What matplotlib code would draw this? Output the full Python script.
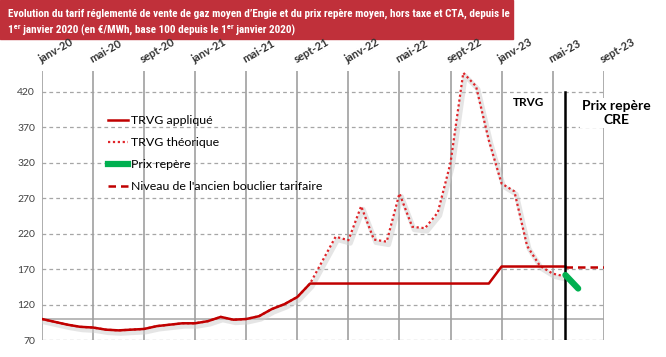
import numpy as np
import matplotlib
matplotlib.use('Agg')
import matplotlib.pyplot as plt
from matplotlib import font_manager
from matplotlib.lines import Line2D
from matplotlib.patches import Rectangle
from matplotlib.transforms import offset_copy

plt.rcParams['font.family'] = ['Lato', 'DejaVu Sans']

# données (mois 0 = janv-20)
mois_labels = ['janv-20', 'mai-20', 'sept-20', 'janv-21', 'mai-21', 'sept-21',
               'janv-22', 'mai-22', 'sept-22', 'janv-23', 'mai-23', 'sept-23']
mois_ticks = [0, 4, 8, 12, 16, 20, 24, 28, 32, 36, 40, 44]

trvg_applique = [100, 96, 92, 89, 88, 85, 84, 85, 86, 90, 92, 94,
                 94, 97, 103, 99, 100, 104, 114, 121, 131, 150,
                 150, 150, 150, 150, 150, 150, 150, 150, 150, 150, 150, 150, 150, 150,
                 174, 174, 174, 174, 174, 174]
trvg_theorique = [100, 96, 92, 89, 88, 85, 84, 85, 86, 90, 92, 94,
                  94, 97, 103, 99, 100, 104, 114, 121, 131, 150,
                  183, 216, 211, 259, 212, 209, 277, 230, 228, 250, 320, 447,
                  428, 352, 291, 280, 203, 175, 164, 160]
bouclier_mois = [41, 42, 43, 44]
bouclier = [174, 174, 174, 174]
prix_repere_mois = [41, 42]
prix_repere = [162, 143]
mois_cre = 41

y_ticks = [70, 120, 170, 220, 270, 320, 370, 420]

rouge = '#C00000'
rouge_pointille = '#E0252A'
vert = '#00B050'
gris = '#A6A6A6'

fig = plt.figure(figsize=(6.66, 3.57), dpi=100)
ax = fig.add_axes([42 / 666, 1 - 340.3 / 357, (603.7 - 42) / 666, (340.3 - 70.7) / 357])

x_app = np.arange(len(trvg_applique))
x_theo = np.arange(len(trvg_theorique))

# ombre sous la courbe théorique
ombre = offset_copy(ax.transData, fig=fig, x=2, y=-3, units='dots')
ax.plot(x_theo, trvg_theorique, color='#cccccc', lw=3.5, alpha=0.5,
        transform=ombre, solid_capstyle='round', zorder=2)
ax.plot(x_theo, trvg_theorique, color=rouge_pointille, lw=1.6,
        linestyle=(0, (1, 1.2)), zorder=3)
ax.plot(x_app, trvg_applique, color=rouge, lw=1.8, zorder=4)
ax.plot(bouclier_mois, bouclier, color=rouge, lw=1.8, linestyle=(0, (3, 2)), zorder=4)
ax.plot([mois_cre, mois_cre], [70, 420], color='black', lw=1.8, zorder=5)
ax.plot(prix_repere_mois, prix_repere, color=vert, lw=4.5,
        solid_capstyle='round', zorder=6)

# grilles
for y in y_ticks:
    ax.axhline(y, color=gris, lw=0.9, linestyle=(0, (3, 2.5)), zorder=1)
ax.axhline(100, color=gris, lw=1.1, zorder=1)
for m in mois_ticks:
    ax.axvline(m, color='#A0A0A0', lw=1.2, zorder=1)

ax.set_xlim(0, 44)
ax.set_ylim(70, 450)
for s in ax.spines.values():
    s.set_visible(False)

ax.set_yticks(y_ticks)
ax.tick_params(axis='y', length=0, pad=5, labelsize=7.5, labelcolor='#404040')
ax.xaxis.tick_top()
ax.set_xticks(mois_ticks)
ax.set_xticklabels(mois_labels, rotation=30, ha='left', va='bottom',
                   rotation_mode='anchor', fontweight='bold', fontsize=8,
                   color='#333333')
ax.tick_params(axis='x', length=0, pad=4)

fig.text(529 / 666, 1 - 103 / 357, 'TRVG', ha='center', va='center',
         fontsize=8.5, fontweight='bold', color='black')
fig.text(616 / 666, 1 - 113 / 357, 'Prix repère\nCRE', ha='center', va='center',
         fontsize=10, fontweight='bold', color='black', linespacing=1.15,
         bbox=dict(facecolor='white', edgecolor='none', pad=1.5), zorder=10)

handles = [Line2D([], [], color=rouge, lw=1.8),
           Line2D([], [], color=rouge_pointille, lw=1.6, linestyle=(0, (1, 1.2))),
           Line2D([], [], color=vert, lw=4.5),
           Line2D([], [], color=rouge, lw=1.8, linestyle=(0, (3, 2)))]
labels = ['TRVG appliqué', 'TRVG théorique', 'Prix repère',
          "Niveau de l'ancien bouclier tarifaire"]
ax.legend(handles, labels, loc='upper left', bbox_to_anchor=(108 / 666, 1 - 115 / 357),
          bbox_transform=fig.transFigure, frameon=False, borderpad=0,
          borderaxespad=0, handlelength=1.65, handletextpad=0.2,
          labelspacing=0.9, fontsize=8.9)

# bandeau titre
fig.add_artist(Rectangle((0, 1 - 39 / 357), 513 / 666, 39 / 357,
                         transform=fig.transFigure, color='#C0303A', zorder=0))
noms = {f.name for f in font_manager.fontManager.ttflist}
police = 'DejaVu Sans'
for p in ['Liberation Sans Narrow', 'Roboto Condensed', 'Open Sans Condensed',
          'Noto Sans Condensed', 'Roboto', 'Lato']:
    if p in noms:
        police = p
        break
titre_police = [police, 'DejaVu Sans']
t1 = fig.text(8 / 666, 1 - 17 / 357,
              'Evolution du tarif réglementé de vente de gaz moyen d’Engie et du prix repère moyen, hors taxe et CTA, depuis le',
              family=titre_police, fontsize=10, fontweight='bold', fontstretch='condensed',
              color='white', va='baseline')
t2 = fig.text(8 / 666, 1 - 34 / 357,
              '1ᵉʳ janvier 2020 (en €/MWh, base 100 depuis le 1ᵉʳ janvier 2020)',
              family=titre_police, fontsize=10, fontweight='bold', fontstretch='condensed',
              color='white', va='baseline')
# ajuster la taille pour que la 1re ligne tienne dans le bandeau
fig.canvas.draw()
largeur = t1.get_window_extent(fig.canvas.get_renderer()).width
taille = 10 * 503 / largeur
t1.set_fontsize(taille)
t2.set_fontsize(taille)

fig.savefig('out.png', dpi=100)
